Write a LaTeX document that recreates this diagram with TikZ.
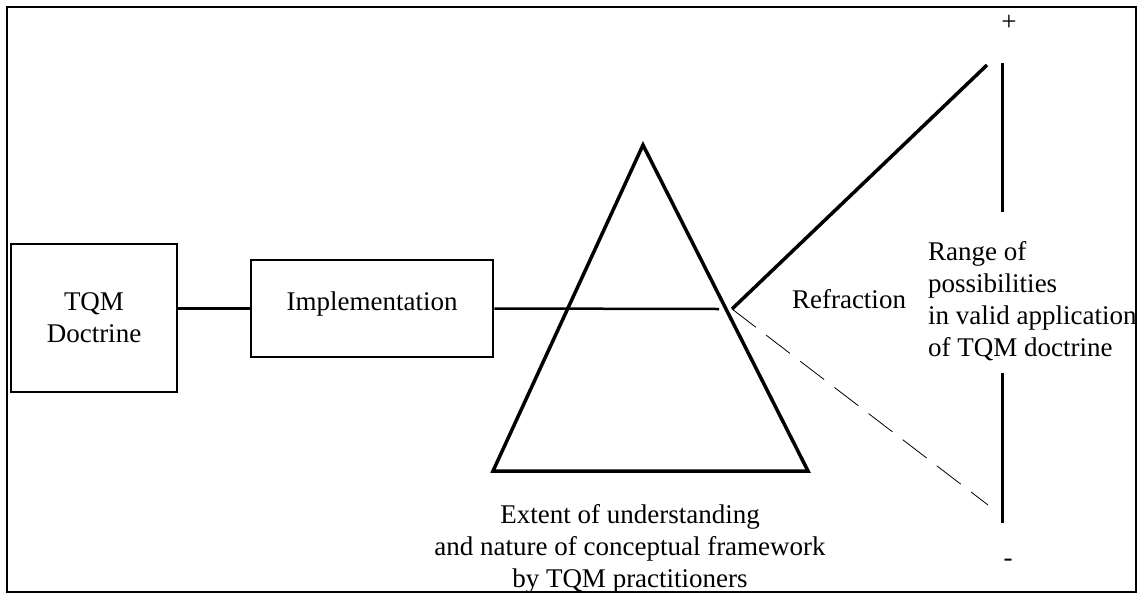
\documentclass[tikz,border=0pt]{standalone}
\usepackage{fontspec}
\setmainfont{Liberation Serif}
\usetikzlibrary{calc}

\tikzset{
    box/.style={draw, line width=2.5pt, inner sep=0pt},
    txt/.style={inner sep=0pt, font=\fontsize{27}{32}\selectfont},
}

\begin{document}
\begin{tikzpicture}[x=1pt, y=-1pt]
    \useasboundingbox (0,0) rectangle (1145,595);
    \draw [line width=2pt] (7,7) rectangle (1136,592);

    % boxes
    \node [box, txt, minimum width=166pt, minimum height=148pt, align=center] (doctrine) at (94,318) {TQM\\Doctrine};
    \node [box, txt, minimum width=242pt, minimum height=97pt, text depth=14pt] (implementation) at (372,308.5) {Implementation};
    \draw [line width=2.5pt] (doctrine.east |- implementation.west) -- (implementation.west);
    \coordinate (beamend) at (719,309);
    \draw [line width=2.5pt] (implementation.east) -- (beamend);

    % prism
    \coordinate (apex) at (643,145);
    \coordinate (baseleft) at (493,471);
    \coordinate (baseright) at (808,471);
    \draw [line width=3.5pt] (apex) -- (baseleft) -- (baseright) -- cycle;

    % refraction
    \coordinate (exit) at (732,309);
    \coordinate (raytop) at (987,65);
    \coordinate (raybottom) at (988,505);
    \draw [line width=3.5pt] (exit) -- (raytop);
    \draw [line width=0.8pt, dash pattern=on 30pt off 13pt] (exit) -- (raybottom);
    \node [txt, anchor=base] (refraction) at (849,308) {Refraction};

    % range of possibilities
    \coordinate (scaletop) at (1002,63);
    \coordinate (scaleupper) at (1002,212);
    \coordinate (scalelower) at (1002,373);
    \coordinate (scalebottom) at (1002,523);
    \draw [line width=3pt] (scaletop) -- (scaleupper);
    \draw [line width=3pt] (scalelower) -- (scalebottom);
    \node [txt] (plus) at (1009,23) {+};
    \node [txt] (minus) at (1008,563) {-};
    \node [txt, anchor=base west, align=left] (range) at (928,356) {Range of\\possibilities\\in valid application\\of TQM doctrine};

    \node [txt, anchor=base, align=center] (understanding) at (630,587) {Extent of understanding\\and nature of conceptual framework\\by TQM practitioners};
\end{tikzpicture}
\end{document}
